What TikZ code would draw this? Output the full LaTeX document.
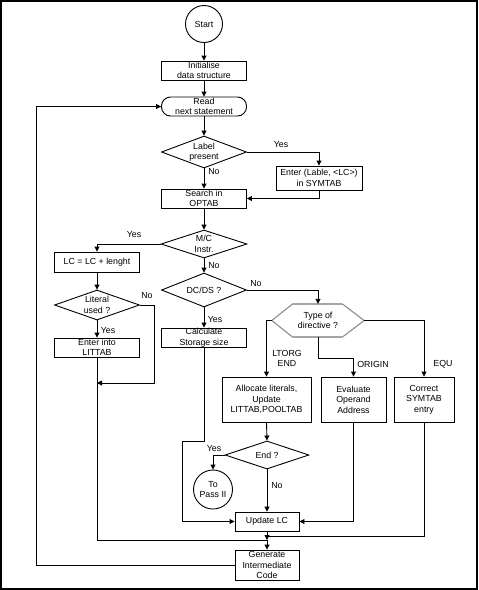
\documentclass[tikz,border=0pt]{standalone}
\usepackage{fontspec}
\setmainfont{Liberation Sans}
\usetikzlibrary{shapes.geometric,arrows.meta,calc}
\begin{document}
\begin{tikzpicture}[x=1pt,y=-1pt,
  every node/.style={font=\fontsize{8.8}{10.5}\selectfont, inner sep=0pt, align=center},
  box/.style={draw, rectangle, line width=0.9pt},
  rbox/.style={draw, rectangle, rounded corners=9pt, line width=0.9pt},
  dia/.style={draw, diamond, line width=0.9pt},
  circ/.style={draw, circle, line width=0.9pt},
  ln/.style={line width=0.9pt},
  arr/.style={line width=0.9pt, -{Triangle[length=5pt,width=5pt]}}]
\useasboundingbox (0,0) rectangle (479,590);
\draw[line width=1.3pt] (1,1) rectangle (477,589);

% nodes
\node[circ, minimum size=37pt] (start) at (204,24) {Start};
\node[box, minimum width=85pt, minimum height=19pt] (init) at (204,70.5) {Initialise\\data structure};
\node[rbox, minimum width=85pt, minimum height=19pt] (read) at (204,106.5) {Read\\next statement};
\node[dia, minimum width=85pt, minimum height=32pt] (lbl) at (204,152) {};
\node (lblt) at (lbl) {Label\\present};
\node[box, minimum width=86pt, minimum height=24pt] (ent) at (319,178) {Enter (Lable, <LC>)\\in SYMTAB};
\node[box, minimum width=85pt, minimum height=19pt] (srch) at (204,198.5) {Search in\\OPTAB};
\node[dia, minimum width=86pt, minimum height=28pt] (mc) at (204,244) {};
\node (mct) at (mc) {M/C\\Instr.};
\node[box, minimum width=85pt, minimum height=20pt] (lc) at (97,262) {LC = LC + lenght};
\node[dia, minimum width=85pt, minimum height=30pt] (lit) at (97,305) {};
\node (litt) at (lit) {Literal\\used ?};
\node[box, minimum width=85pt, minimum height=19pt] (ltab) at (97,347.5) {Enter into\\LITTAB};
\node[dia, minimum width=85pt, minimum height=34pt] (dcds) at (204,290) {};
\node (dcdst) at (dcds) {DC/DS ?};
\node[box, minimum width=85pt, minimum height=19pt] (calc) at (204,337.5) {Calculate\\Storage size};
\node[minimum width=92pt, minimum height=33pt] (typ) at (318,320.5) {Type of\\directive ?};
\draw[black!45, line width=1.1pt] (typ.west) -- ($(typ.north west)+(21,0)$);
\draw[black!35, line width=1.6pt] ($(typ.north west)+(21,0)$) -- ($(typ.north east)+(-22,0)$);
\draw[black!45, line width=1.1pt] ($(typ.north east)+(-22,0)$) -- (typ.east) -- ($(typ.south east)+(-22,0)$);
\draw[black!35, line width=1.6pt] ($(typ.south east)+(-22,0)$) -- ($(typ.south west)+(21,0)$);
\draw[black!45, line width=1.1pt] ($(typ.south west)+(21,0)$) -- (typ.west);
\node[box, minimum width=89pt, minimum height=45pt] (alloc) at (266.5,399.5) {Allocate literals,\\Update\\LITTAB,POOLTAB};
\node[box, minimum width=65pt, minimum height=45pt] (eval) at (353.5,399.5) {Evaluate\\Operand\\Address};
\node[box, minimum width=60pt, minimum height=45pt] (corr) at (424,399.5) {Correct\\SYMTAB\\entry};
\node[dia, minimum width=84pt, minimum height=28pt] (endd) at (267,455) {};
\node (endt) at (endd) {End ?};
\node[circ, minimum size=39pt] (pass) at (213,489.5) {To\\Pass II};
\node[box, minimum width=64pt, minimum height=19pt] (upd) at (267,521.5) {Update LC};
\node[box, minimum width=64pt, minimum height=30pt] (gen) at (267,565) {Generate\\Intermediate\\Code};

% helper coordinates
\coordinate (j1) at (97,383);
\coordinate (m1) at (267,540);
\coordinate (m2) at (267,536);
\coordinate (c1) at (182,441);
\coordinate (h1) at (318,358);
\coordinate (l1) at (36,565);
\coordinate (n1) at (154,305);

% connectors
\draw[arr] (start) -- (init);
\draw[arr] (init) -- (read);
\draw[arr] (read) -- (lbl);
\draw[arr] (lbl.east) -| (ent.north);
\draw[arr] (ent.south) |- (srch.east);
\draw[arr] (lbl.south) -- (srch.north);
\draw[arr] (srch.south) -- (mc.north);
\draw[arr] (mc.west) -| (lc.north);
\draw[arr] (mc.south) -- (dcds.north);
\draw[arr] (lc.south) -- (lit.north);
\draw[arr] (lit.east) -- (n1) |- (j1);
\draw[arr] (lit.south) -- (ltab.north);
\draw[ln] (ltab.south) |- (m1);
\draw[arr] (m1) -- (gen.north);
\draw[arr] (upd.south) -- (m1);
\draw[ln] (corr.south) |- (m2);
\draw[arr] (dcds.east) -| (typ.north);
\draw[arr] (dcds.south) -- (calc.north);
\draw[arr] (calc.south) |- (c1) |- (upd.west);
\draw[arr] (typ.west) -| (alloc.north);
\draw[arr] (typ.south) -- (h1) -| (eval.north);
\draw[arr] (typ.east) -| (corr.north);
\draw[arr] (alloc.south) -- (endd.north);
\draw[arr] (endd.west) -| (pass.north);
\draw[arr] (endd.south) -- (upd.north);
\draw[arr] (eval.south) |- (upd.east);
\draw[arr] (gen.west) -- (l1) |- (read.west);

% labels
\node (y1) at (281,145) {Yes};
\node (n1l) at (214,172) {No};
\node (y2) at (134,235) {Yes};
\node (n2) at (214,266) {No};
\node (n3) at (147,296) {No};
\node (y3) at (108,331) {Yes};
\node (n4) at (256,284) {No};
\node (y4) at (215,320) {Yes};
\node (lt) at (287,358.5) {LTORG\\END};
\node (or) at (373,364) {ORIGIN};
\node (eq) at (443,364) {EQU};
\node (y5) at (214,449) {Yes};
\node (n5) at (277,486) {No};
\end{tikzpicture}
\end{document}
